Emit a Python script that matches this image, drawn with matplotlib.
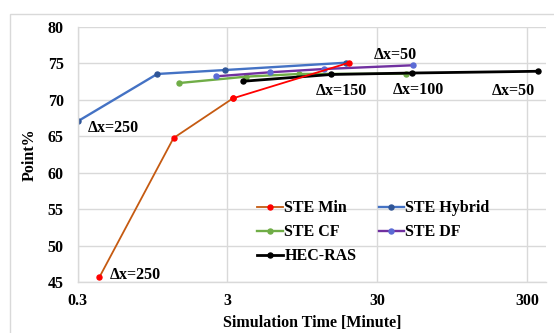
import matplotlib
matplotlib.use("Agg")
import matplotlib.pyplot as plt
from matplotlib.patches import Rectangle

# values (time in minutes, Point %)
min_t = [0.42, 1.31, 3.26, 19.4]
min_p = [45.73, 64.78, 70.22, 75.1]
hyb_t = [0.303, 1.02, 2.89, 18.4]
hyb_p = [67.11, 73.56, 74.1, 75.1]
cf_t = [1.43, 3.99, 9.0, 46.9]
cf_p = [72.32, 73.19, 73.56, 73.6]
df_t = [2.53, 5.77, 13.2, 51.5]
df_p = [73.24, 73.79, 74.24, 74.75]
hec_t = [3.8, 14.8, 50.9, 353.6]
hec_p = [72.56, 73.49, 73.69, 73.93]

x_ticks = [0.3, 3, 30, 300]
x_labels = ["0.3", "3", "30", "300"]
y_ticks = [45, 50, 55, 60, 65, 70, 75, 80]

plt.rcParams["font.family"] = ["Liberation Serif", "DejaVu Serif"]
plt.rcParams["font.weight"] = "bold"
FS = 11.5

fig = plt.figure(figsize=(5.54, 3.33), dpi=100)
fig.patches.append(Rectangle((10 / 554, -0.1), 1.0, 1.1 - 14 / 333,
                             transform=fig.transFigure, fill=False,
                             ec="#D9D9D9", lw=1.0))
ax = fig.add_axes([0.140, 0.152, 0.8456, 0.767])

kw = dict(lw=1.7, marker="o", ms=3.6)
ax.plot(hyb_t, hyb_p, color="#4472C4", mfc="#2F5597", mec="#2F5597",
        label="STE Hybrid", **kw)
ax.plot(cf_t, cf_p, color="#70AD47", mfc="#70AD47", mec="#70AD47",
        label="STE CF", **kw)
ax.plot(df_t, df_p, color="#7030A0", mfc="#5B6BD5", mec="#5B6BD5",
        label="STE DF", **kw)
ax.plot(hec_t, hec_p, color="black", mfc="black", mec="black",
        label="HEC-RAS", lw=2.0, marker="o", ms=3.6)
ax.plot(min_t[:3], min_p[:3], color="#C55A11", mfc="red", mec="red",
        label="STE Min", lw=1.3, marker="o", ms=3.6)
ax.plot(min_t[2:], min_p[2:], color="red", mfc="red", mec="red",
        lw=1.3, marker="o", ms=3.6)

ax.set_xscale("log")
ax.set_xlim(0.3, 400)
ax.set_ylim(45, 80)
ax.set_xticks(x_ticks)
ax.set_xticklabels(x_labels)
ax.xaxis.set_minor_locator(matplotlib.ticker.NullLocator())
ax.set_yticks(y_ticks)
ax.tick_params(axis="both", length=0, labelsize=FS)
ax.tick_params(axis="x", pad=8)
ax.tick_params(axis="y", pad=10)
ax.grid(True, color="#D9D9D9", lw=1.0)
ax.set_axisbelow(True)
for s in ["top", "right"]:
    ax.spines[s].set_visible(False)
for s in ["left", "bottom"]:
    ax.spines[s].set_color("#D9D9D9")
    ax.spines[s].set_linewidth(1.0)

ax.set_xlabel("Simulation Time [Minute]", fontsize=FS, fontweight="bold", labelpad=4)
ax.set_ylabel("Point%", fontsize=FS, fontweight="bold", labelpad=7)

# dx annotations next to the points they describe
ann = dict(textcoords="offset pixels", fontsize=FS, fontweight="bold", va="center")
ax.annotate("\u0394x=250", (hyb_t[0], hyb_p[0]), xytext=(10, -7), ha="left", **ann)
ax.annotate("\u0394x=250", (min_t[0], min_p[0]), xytext=(10, 2), ha="left", **ann)
ax.annotate("\u0394x=150", (hec_t[1], hec_p[1]), xytext=(10, -17), ha="center", **ann)
ax.annotate("\u0394x=100", (hec_t[2], hec_p[2]), xytext=(7, -17), ha="center", **ann)
ax.annotate("\u0394x=50", (hec_t[3], hec_p[3]), xytext=(-25, -20), ha="center", **ann)
ax.annotate("\u0394x=50", (df_t[3], df_p[3]), xytext=(-17, 10), ha="center", **ann)

h, l = ax.get_legend_handles_labels()
order = ["STE Min", "STE CF", "HEC-RAS", "STE Hybrid", "STE DF"]
hd = dict(zip(l, h))
ax.legend([hd[k] for k in order], order, ncol=2, frameon=False,
          loc="upper left", bbox_to_anchor=(0.367, 0.353), borderpad=0,
          prop=dict(size=FS, weight="bold"), handlelength=1.6,
          handletextpad=0.08, columnspacing=1.4, labelspacing=0.5)

fig.savefig("out.png", dpi=100)
